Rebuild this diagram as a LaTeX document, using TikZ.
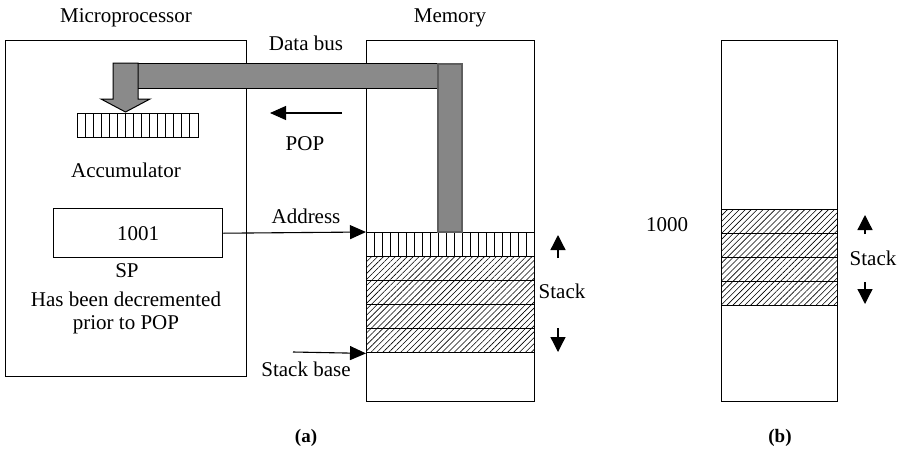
\documentclass[tikz,border=0pt]{standalone}
\usepackage{fontspec}
\setmainfont{Liberation Serif}
\usetikzlibrary{patterns.meta,arrows.meta,calc}
\definecolor{busgray}{HTML}{8A8A8A}
\definecolor{vbusgray}{HTML}{868686}
\definecolor{vbusedge}{HTML}{5E5E5E}
\begin{document}
\begin{tikzpicture}[x=1pt,y=-1pt,
  font=\fontsize{21}{25}\selectfont,
  box/.style={draw, line width=1.4pt, inner sep=0pt, anchor=north west},
  cell/.style={draw, line width=1.4pt, inner sep=0pt, anchor=north west, minimum height=24pt},
  hatched/.style={cell, pattern={Lines[angle=45,distance=4.2pt,line width=0.6pt]}},
  lbl/.style={inner sep=0pt},
  arr/.style={line width=1.1pt, -{Triangle[length=16pt,width=14pt]}},
  sarr/.style={line width=1.3pt, -{Triangle[length=15pt,width=15pt]}},
  busfill/.style={fill=busgray, draw=black, line width=1pt}
]
\useasboundingbox (0,0) rectangle (903,456);

% main boxes
\node[box, minimum width=241pt, minimum height=336pt] (mp) at (5,40) {};
\node[box, minimum width=168pt, minimum height=361pt] (mem) at (366,40) {};
\node[box, minimum width=116pt, minimum height=361pt] (memb) at (721,40) {};

% titles
\node[lbl] (tmp) at (126,18) {Microprocessor};
\node[lbl] (tmem) at (450,18) {Memory};
\node[lbl] (tbus) at (306,43) {Data bus};

% accumulator
\node[box, minimum width=121pt, minimum height=24pt] (acc) at (77,113) {};
\foreach \i in {1,...,14} \draw[line width=1pt] ($(acc.north west)+(\i*8.07,0)$) -- ($(acc.south west)+(\i*8.07,0)$);
\node[lbl] (tacc) at (126,170) {Accumulator};

% SP
\node[box, minimum width=169pt, minimum height=49pt] (sp) at (53,208) {};
\node[lbl] (t1001) at (sp.center) {1001};
\node[lbl] (tsp) at (127,271) {SP};
\node[lbl] (thas) at (126,299) {Has been decremented};
\node[lbl] (tprior) at (126,325) {prior to POP};

% memory rows (a)
\node[cell, minimum width=168pt] (r0) at (366,232) {};
\foreach \i in {1,...,20} \draw[line width=1pt] ($(r0.north west)+(\i*8.0,0)$) -- ($(r0.south west)+(\i*8.0,0)$);
\node[hatched, minimum width=168pt] (r1) at (366,256) {};
\node[hatched, minimum width=168pt] (r2) at (366,280) {};
\node[hatched, minimum width=168pt] (r3) at (366,304) {};
\node[hatched, minimum width=168pt] (r4) at (366,328) {};

% memory rows (b)
\node[hatched, minimum width=116pt] (b1) at (721,209) {};
\node[hatched, minimum width=116pt] (b2) at (721,233) {};
\node[hatched, minimum width=116pt] (b3) at (721,257) {};
\node[hatched, minimum width=116pt] (b4) at (721,281) {};

% data bus
\draw[busfill] (113,63) rectangle (437,88);
\draw[busfill] (113,63) -- (138,63) -- (138,99) -- (150,99) -- (125.5,112) -- (101,99) -- (113,99) -- cycle;
\draw[fill=vbusgray, draw=vbusedge, line width=1.5pt] (438,64) rectangle (462,232);

% POP
\coordinate (popS) at (342,113);
\coordinate (popE) at (270,113);
\draw[arr] (popS) -- (popE);
\node[lbl] (tpop) at (305,144) {POP};

% address
\draw[arr] (sp.east) -- (r0.north west);
\node[lbl] (taddr) at (306,216) {Address};

% stack base
\coordinate (sbS) at (293,352);
\draw[arr] (sbS) -- (r4.south west);
\node[lbl] (tsb) at (306,369) {Stack base};

% stack arrows (a)
\coordinate (ua1) at (558,258);
\coordinate (ua2) at (558,235);
\coordinate (da1) at (558,328);
\coordinate (da2) at (558,352);
\draw[sarr] (ua1) -- (ua2);
\draw[sarr] (da1) -- (da2);
\node[lbl] (tstack) at (562,291) {Stack};

% (b)
\node[lbl] (t1000) at (667,225) {1000};
\coordinate (ub1) at (865,234);
\coordinate (ub2) at (865,215);
\coordinate (db1) at (865,282);
\coordinate (db2) at (865,304);
\draw[sarr] (ub1) -- (ub2);
\draw[sarr] (db1) -- (db2);
\node[lbl] (tstackb) at (873,258) {Stack};

% captions
\node[lbl, font=\fontsize{19}{23}\selectfont\bfseries] (ca) at (306,438) {(a)};
\node[lbl, font=\fontsize{19}{23}\selectfont\bfseries] (cb) at (780,438) {(b)};
\end{tikzpicture}
\end{document}
